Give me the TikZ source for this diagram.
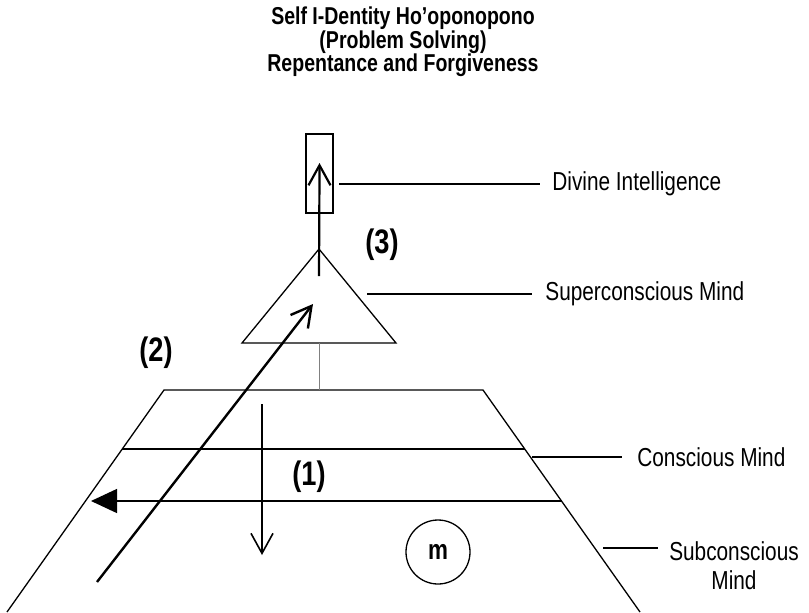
\documentclass[tikz,border=0pt]{standalone}
\usepackage{fontspec}
\setmainfont{Liberation Sans}[FakeStretch=0.8]
\usetikzlibrary{arrows.meta,calc}

\tikzset{
  mind/.style={line width=0.65pt},
  leader/.style={line width=0.55pt},
  flow/.style={line width=1.1pt,-{Straight Barb[length=10pt,width=11pt,line width=1.1pt]}},
  lbl/.style={font=\fontsize{13}{14.5}\selectfont, inner sep=0pt},
  num/.style={font=\bfseries\fontsize{17}{17}\selectfont, inner sep=0pt}
}

\begin{document}
\begin{tikzpicture}[x=0.5pt,y=-0.5pt]
\useasboundingbox (0,0) rectangle (809,612);

\node[align=center, font=\bfseries\fontsize{12.2}{11.75}\selectfont] (title) at (403,42)
  {Self I-Dentity Ho’oponopono\\(Problem Solving)\\Repentance and Forgiveness};

% divine box and superconscious triangle
\node[draw, mind, minimum width=13.5pt, minimum height=39.5pt, inner sep=0pt] (divine) at (319.5,173.5) {};
\coordinate (apex) at (319,249);
\coordinate (tbl) at (242,343);
\coordinate (tbr) at (396,343);
\coordinate (tbase) at (319,343);
\draw[mind] (apex) -- (tbl) -- (tbr) -- cycle;

% conscious / subconscious trapezoid
\coordinate (tl) at (164,390);
\coordinate (tr) at (483,390);
\coordinate (bl) at (7,612);
\coordinate (br) at (640,612);
\coordinate (ttop) at (319,390);
\draw[mind] (bl) -- (tl) -- (tr) -- (br);
\draw[mind] ($(tl)!0.266!(bl)$) -- ($(tr)!0.266!(br)$);
\draw[gray, line width=0.5pt] (tbase) -- (ttop);

\node[draw, circle, mind, minimum size=32pt, inner sep=0pt, font=\bfseries\fontsize{14}{14}\selectfont] (m) at (438,552) {m};

% arrows
\coordinate (upstart) at (319,276);
\coordinate (downstart) at (262,404);
\coordinate (downend) at (262,555);
\coordinate (diagstart) at (97,582);
\coordinate (diagend) at (313,304);
\coordinate (backend) at (91,501);
\draw[flow] (upstart) -- (divine.center) -- ++(0,-10.5);
\draw[line width=0.8pt,-{Straight Barb[length=10pt,width=11pt,line width=0.8pt]}] (downstart) -- (downend);
\draw[line width=1.2pt,-{Straight Barb[length=10pt,width=11pt,line width=1.2pt]}] (diagstart) -- (diagend);
\draw[mind,-{Triangle[length=13pt,width=12pt]}] ($(tr)!0.5!(br)$) -- (backend);

\node[num] (n1) at (309,477) {(1)};
\node[num] (n2) at (156,353) {(2)};
\node[num] (n3) at (382,245) {(3)};

% labels
\node[lbl, anchor=west] (divtxt) at (552,184) {Divine Intelligence};
\node[lbl, anchor=west] (suptxt) at (545,294) {Superconscious Mind};
\node[lbl, anchor=west] (contxt) at (637,457) {Conscious Mind};
\node[lbl, align=center] (subtxt) at (734,566) {Subconscious\\Mind};
\coordinate (divfoot) at (339,184);
\draw[leader] (divfoot) -- ([xshift=-6pt]divtxt.west);
\coordinate (supfoot) at (367,294);
\draw[leader] (supfoot) -- ([xshift=-6.5pt]suptxt.west);
\coordinate (confoot) at (532,457);
\draw[leader] (confoot) -- ([xshift=-7.5pt]contxt.west);
\coordinate (subfoot) at (603,548);
\draw[leader] (subfoot) -- (658,548);
\end{tikzpicture}
\end{document}
